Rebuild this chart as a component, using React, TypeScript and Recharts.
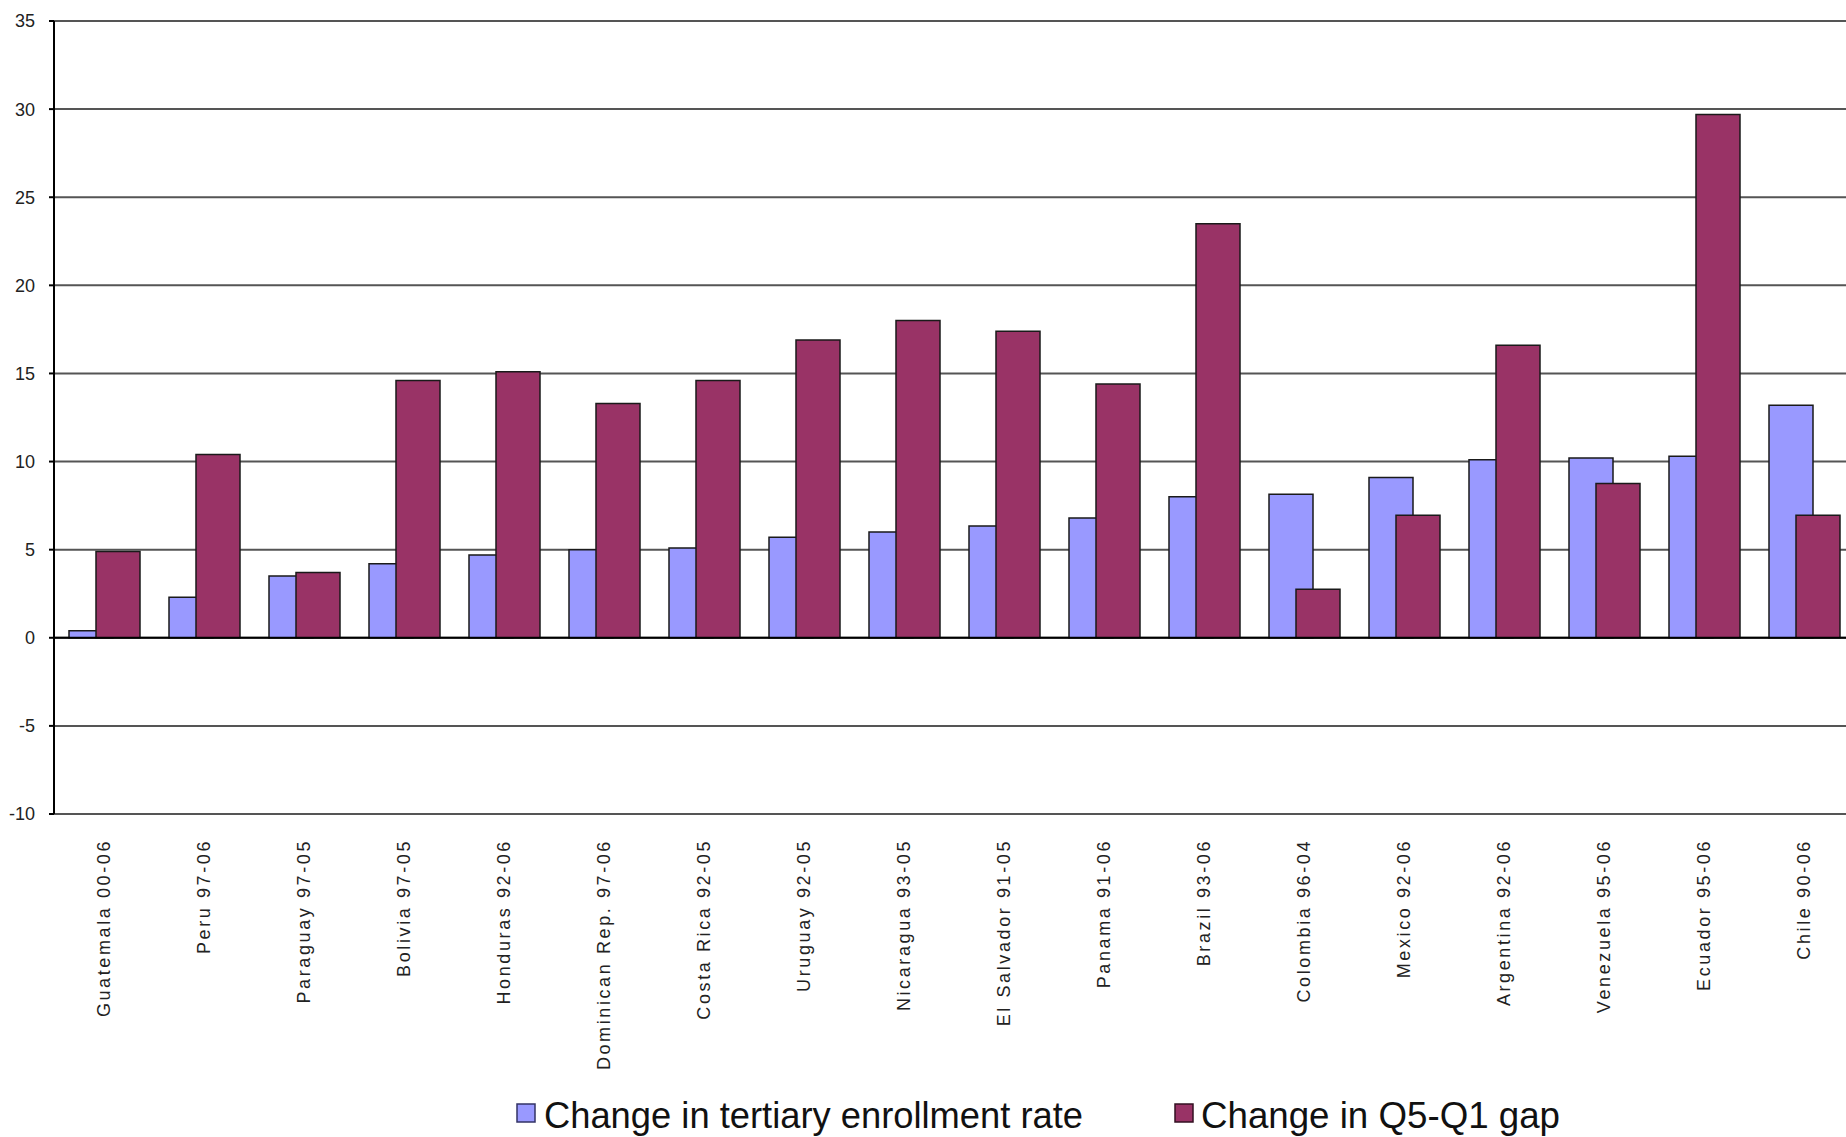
import { BarChart, Bar, XAxis, YAxis, CartesianGrid, Legend, ReferenceLine } from 'recharts';

const countries = [
  'Guatemala 00-06',
  'Peru 97-06',
  'Paraguay 97-05',
  'Bolivia 97-05',
  'Honduras 92-06',
  'Dominican Rep. 97-06',
  'Costa Rica 92-05',
  'Uruguay 92-05',
  'Nicaragua 93-05',
  'El Salvador 91-05',
  'Panama 91-06',
  'Brazil 93-06',
  'Colombia 96-04',
  'Mexico 92-06',
  'Argentina 92-06',
  'Venezuela 95-06',
  'Ecuador 95-06',
  'Chile 90-06',
];

const enrollmentChange = [0.4, 2.3, 3.5, 4.2, 4.7, 5.0, 5.1, 5.7, 6.0, 6.35, 6.8, 8.0, 8.15, 9.1, 10.1, 10.2, 10.3, 13.2];
const gapChange = [4.9, 10.4, 3.7, 14.6, 15.1, 13.3, 14.6, 16.9, 18.0, 17.4, 14.4, 23.5, 2.75, 6.95, 16.6, 8.75, 29.7, 6.95];

const yTicks = [-10, -5, 0, 5, 10, 15, 20, 25, 30, 35];

const ENROLL_NAME = 'Change in tertiary enrollment rate';
const GAP_NAME = 'Change in Q5-Q1 gap';
const ENROLL_COLOR = '#9999FF';
const GAP_COLOR = '#993366';

const chartData = countries.map((country, i) => ({
  country,
  enrollment: enrollmentChange[i],
  gap: gapChange[i],
}));

const FONT = 'Arial, "Liberation Sans", sans-serif';

const CountryTick = ({ x, y, payload }: any) => (
  <g transform={`translate(${x},${y + 25})`}>
    <text
      transform="rotate(-90)"
      textAnchor="end"
      dy="0.36em"
      fontSize={18}
      letterSpacing={2.6}
      fill="#222"
      fontFamily={FONT}
    >
      {payload.value}
    </text>
  </g>
);

const ValueTick = ({ x, y, payload }: any) => (
  <text x={x} y={y} dy="0.36em" textAnchor="end" fontSize={18} fill="#222" fontFamily={FONT}>
    {payload.value}
  </text>
);

// legend entries laid out by hand, text stretched to a fixed length
const legendItems = [
  { name: ENROLL_NAME, color: ENROLL_COLOR, border: '#333366', box: 517, text: 544, len: 539 },
  { name: GAP_NAME, color: GAP_COLOR, border: '#331122', box: 1175, text: 1201, len: 359 },
];

const LegendContent = () => (
  <svg width={1854} height={43} style={{ display: 'block' }}>
    {legendItems.map((item) => (
      <g key={item.name}>
        <rect x={item.box} y={10} width={18} height={18} fill={item.color} stroke={item.border} strokeWidth={1.5} />
        <text
          x={item.text}
          y={34}
          fontSize={36}
          fontFamily={FONT}
          fill="#111"
          textLength={item.len}
          lengthAdjust="spacingAndGlyphs"
        >
          {item.name}
        </text>
      </g>
    ))}
  </svg>
);

export default function App() {
  return (
    <div style={{ position: 'absolute', left: 0, top: 0, width: 1846, height: 1137, overflow: 'hidden', background: '#fff' }}>
      <BarChart
        width={1854}
        height={1137}
        data={chartData}
        margin={{ top: 21, right: 0, left: 0, bottom: 0 }}
        barSize={44}
        barGap={-17}
      >
        <CartesianGrid horizontal vertical={false} stroke="#555" strokeWidth={2} />
        <XAxis
          dataKey="country"
          interval={0}
          height={280}
          tickSize={0}
          tickMargin={0}
          tickLine={false}
          axisLine={false}
          tick={<CountryTick />}
        />
        <YAxis
          type="number"
          domain={[-10, 35]}
          ticks={yTicks}
          width={54}
          tickSize={5}
          tickMargin={14}
          axisLine={{ stroke: '#000', strokeWidth: 2 }}
          tickLine={{ stroke: '#000', strokeWidth: 2 }}
          tick={<ValueTick />}
          interval={0}
        />
        <Legend
          verticalAlign="bottom"
          content={<LegendContent />}
          wrapperStyle={{ left: 0, width: 1854, height: 43 }}
        />
        <Bar
          dataKey="enrollment"
          name={ENROLL_NAME}
          fill={ENROLL_COLOR}
          stroke="#1a1a1a"
          strokeWidth={1.5}
          isAnimationActive={false}
        />
        <Bar
          dataKey="gap"
          name={GAP_NAME}
          fill={GAP_COLOR}
          stroke="#1a1a1a"
          strokeWidth={1.5}
          isAnimationActive={false}
        />
        <ReferenceLine y={0} stroke="#000" strokeWidth={2} />
      </BarChart>
    </div>
  );
}
